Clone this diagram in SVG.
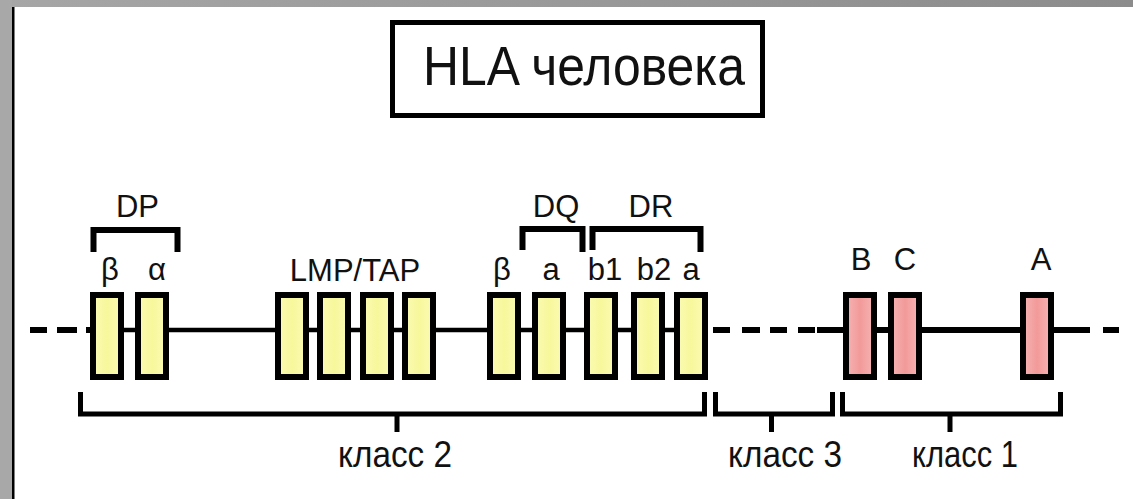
<svg xmlns="http://www.w3.org/2000/svg" width="1133" height="499" viewBox="0 0 1133 499">
  <defs>
    <linearGradient id="topband" x1="0" y1="0" x2="1" y2="0">
      <stop offset="0" stop-color="#a6a6a6"/>
      <stop offset="1" stop-color="#8c8c8c"/>
    </linearGradient>
    <linearGradient id="yel" x1="0" y1="0" x2="1" y2="0">
      <stop offset="0" stop-color="#fbfbb4"/>
      <stop offset="0.5" stop-color="#f7f79c"/>
      <stop offset="1" stop-color="#fbfbb4"/>
    </linearGradient>
    <linearGradient id="pnk" x1="0" y1="0" x2="1" y2="0">
      <stop offset="0" stop-color="#f6b4b4"/>
      <stop offset="0.5" stop-color="#f29a9a"/>
      <stop offset="1" stop-color="#f6b4b4"/>
    </linearGradient>
    <style>
      .t { font-family: "Liberation Sans", Arial, sans-serif; fill: #111; }
      .lbl { font-size: 31px; text-anchor: middle; }
      .cls { font-size: 37px; text-anchor: middle; }
      .ln { stroke: #000; fill: none; }
      .gy { fill: url(#yel); stroke: #000; stroke-width: 6; }
      .gp { fill: url(#pnk); stroke: #000; stroke-width: 6; }
      .br { stroke: #000; stroke-width: 6; fill: none; stroke-linejoin: miter; }
      .bb { stroke: #000; stroke-width: 5; fill: none; stroke-linejoin: miter; }
    </style>
  </defs>

  <rect x="0" y="0" width="1133" height="499" fill="#ffffff"/>
  <rect x="0" y="0" width="1133" height="7" fill="url(#topband)"/>
  <rect x="0" y="0" width="12" height="499" fill="#a8a8a8"/>
  <rect x="12" y="7" width="2.5" height="492" fill="#000"/>

  <g id="title">
    <rect x="392.5" y="22.5" width="370" height="93" fill="#fff" stroke="#000" stroke-width="5"/>
    <text class="t" x="423" y="85" font-size="56" textLength="322" lengthAdjust="spacingAndGlyphs">HLA человека</text>
  </g>

  <g id="connectors">
    <line class="ln" x1="90" y1="330" x2="708" y2="330" stroke-width="4.5"/>
    <line class="ln" x1="30" y1="330" x2="47" y2="330" stroke-width="6"/>
    <line class="ln" x1="57" y1="330" x2="77" y2="330" stroke-width="6"/>
    <line class="ln" x1="86" y1="330" x2="92" y2="330" stroke-width="6"/>
    <line class="ln" x1="713" y1="330" x2="730" y2="330" stroke-width="6"/>
    <line class="ln" x1="742" y1="330" x2="760" y2="330" stroke-width="6"/>
    <line class="ln" x1="770" y1="330" x2="787" y2="330" stroke-width="6"/>
    <line class="ln" x1="798" y1="330" x2="815" y2="330" stroke-width="6"/>
    <line class="ln" x1="817" y1="330" x2="1090" y2="330" stroke-width="6"/>
    <line class="ln" x1="1103" y1="330" x2="1119" y2="330" stroke-width="6"/>
  </g>

  <g id="DP">
    <path class="br" d="M93.5,252 V230 H177.5 V252"/>
    <text class="t lbl" x="137.5" y="217">DP</text>
    <rect class="gy" x="93" y="295" width="28" height="82"/>
    <rect class="gy" x="138" y="295" width="28" height="82"/>
    <text class="t lbl" x="110" y="280">β</text>
    <text class="t lbl" x="157" y="280">α</text>
  </g>

  <g id="LMP-TAP">
    <text class="t lbl" x="355" y="281">LMP/TAP</text>
    <rect class="gy" x="278" y="295" width="28" height="82"/>
    <rect class="gy" x="320" y="295" width="28" height="82"/>
    <rect class="gy" x="363" y="295" width="28" height="82"/>
    <rect class="gy" x="405" y="295" width="28" height="82"/>
  </g>

  <g id="DQ">
    <path class="br" d="M522.5,250 V229 H582.5 V252"/>
    <text class="t lbl" x="556" y="217">DQ</text>
    <rect class="gy" x="490" y="295" width="28" height="82"/>
    <rect class="gy" x="535" y="295" width="28" height="82"/>
    <text class="t lbl" x="502" y="280">β</text>
    <text class="t lbl" x="551" y="280">a</text>
  </g>

  <g id="DR">
    <path class="br" d="M592.5,250 V229 H700.5 V252"/>
    <text class="t lbl" x="651" y="217">DR</text>
    <rect class="gy" x="587" y="295" width="28" height="82"/>
    <rect class="gy" x="634" y="295" width="28" height="82"/>
    <rect class="gy" x="677" y="295" width="28" height="82"/>
    <text class="t lbl" x="605" y="280">b1</text>
    <text class="t lbl" x="654" y="280">b2</text>
    <text class="t lbl" x="691" y="280">a</text>
  </g>

  <g id="class1-genes">
    <rect class="gp" x="846" y="295" width="28" height="82"/>
    <rect class="gp" x="891" y="295" width="28" height="82"/>
    <rect class="gp" x="1023" y="295" width="28" height="82"/>
    <text class="t lbl" x="861" y="270">B</text>
    <text class="t lbl" x="905" y="270">C</text>
    <text class="t lbl" x="1041" y="270">A</text>
  </g>

  <g id="class2">
    <path class="bb" d="M80.5,392 V414 H704.5 V392 M397,414 V432"/>
    <text class="t cls" x="395" y="467" textLength="114" lengthAdjust="spacingAndGlyphs">класс 2</text>
  </g>
  <g id="class3">
    <path class="bb" d="M715.5,392 V414 H832.5 V392 M771.5,414 V432"/>
    <text class="t cls" x="785" y="467" textLength="114" lengthAdjust="spacingAndGlyphs">класс 3</text>
  </g>
  <g id="class1">
    <path class="bb" d="M842.5,392 V414 H1060.5 V392 M950,414 V432"/>
    <text class="t cls" x="965" y="467" textLength="106" lengthAdjust="spacingAndGlyphs">класс 1</text>
  </g>
</svg>
